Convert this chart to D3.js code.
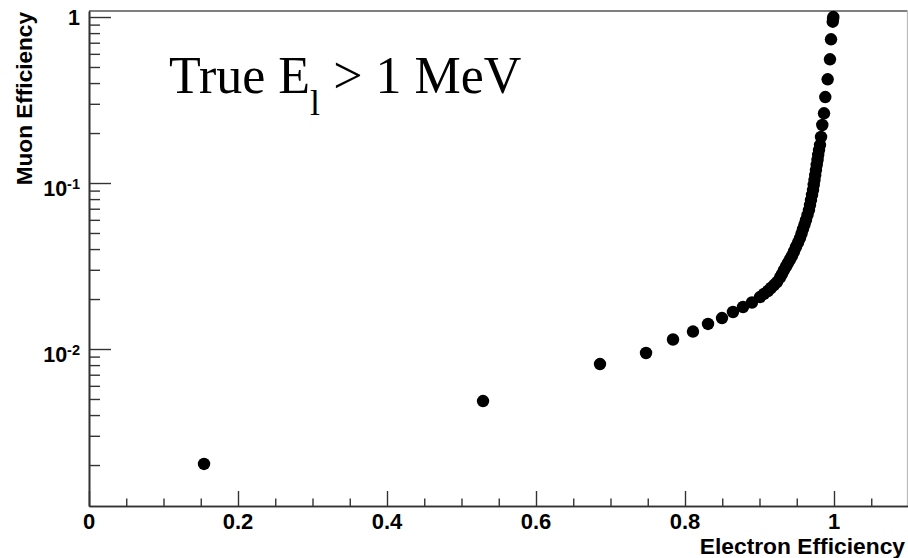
<!DOCTYPE html>
<html>
<head>
<meta charset="utf-8">
<script src="https://cdn.jsdelivr.net/npm/d3@7"></script>
<style>
  html, body { margin: 0; padding: 0; background: #fff; }
  svg { display: block; }
  .lbl { font-family: "Liberation Sans", Arial, sans-serif; font-weight: bold; fill: #000; }
</style>
</head>
<body>
<svg id="chart" width="908" height="558"></svg>
<script>
// Electron efficiency (x) vs muon efficiency (y) from a cut scan
const electronEff = [
  0.1544, 0.5289, 0.6859, 0.7477, 0.7839, 0.8107, 0.8309, 0.8497, 0.8644, 0.8779,
  0.8899, 0.9007, 0.9060, 0.9114, 0.9154, 0.9195, 0.9235, 0.9275, 0.9302, 0.9329,
  0.9356, 0.9383, 0.9409, 0.9436, 0.9463, 0.9490, 0.9517, 0.9544, 0.9564, 0.9584,
  0.9604, 0.9624, 0.9644, 0.9664, 0.9678, 0.9691, 0.9705, 0.9718, 0.9728, 0.9738,
  0.9748, 0.9758, 0.9768, 0.9779, 0.9788, 0.9799, 0.9812, 0.9826, 0.9843, 0.9866,
  0.9883, 0.9915, 0.9946, 0.9960, 0.9983, 0.9987, 0.9991
];
const muonEff = [
  0.00203, 0.00486, 0.00812, 0.00946, 0.01141, 0.01274, 0.01415, 0.01537, 0.01671, 0.01791,
  0.01906, 0.02057, 0.02145, 0.02236, 0.02331, 0.02429, 0.02532, 0.02695, 0.02829, 0.02991,
  0.03141, 0.03297, 0.03461, 0.03633, 0.03867, 0.04116, 0.04380, 0.04663, 0.04963, 0.05282,
  0.05623, 0.05984, 0.06415, 0.06876, 0.07370, 0.07898, 0.08467, 0.09074, 0.09727, 0.1042,
  0.1117, 0.1197, 0.1284, 0.1376, 0.1475, 0.1580, 0.1694, 0.1893, 0.2236, 0.2630,
  0.3296, 0.4214, 0.5561, 0.7340, 0.9369, 0.9726, 1.0
];

const xMajorTicks = [0, 0.2, 0.4, 0.6, 0.8, 1.0];
const xTickLabels = ["0", "0.2", "0.4", "0.6", "0.8", "1"];
const xMinorTicks = [0.05, 0.1, 0.15, 0.25, 0.3, 0.35, 0.45, 0.5, 0.55, 0.65, 0.7, 0.75,
                     0.85, 0.9, 0.95, 1.05];
const yMajorTicks = [1, 0.1, 0.01];
const yTickMantissa = ["1", "10", "10"];
const yTickExponent = ["", "-1", "-2"];
const yMinorTicks = [0.002, 0.003, 0.004, 0.005, 0.006, 0.007, 0.008, 0.009,
                     0.02, 0.03, 0.04, 0.05, 0.06, 0.07, 0.08, 0.09,
                     0.2, 0.3, 0.4, 0.5, 0.6, 0.7, 0.8, 0.9];

const xTitle = "Electron Efficiency";
const yTitle = "Muon Efficiency";

const svg = d3.select("#chart");
const frame = { left: 89, right: 907.5, top: 11, bottom: 506 };

const x = d3.scaleLinear().domain([0, 1.1]).range([frame.left, frame.left + 819.5]);
const y = d3.scaleLog().domain([0.001133, 1.087]).range([frame.bottom, frame.top]);

// frame: top and right edges drawn lighter
svg.append("line").attr("x1", frame.left).attr("x2", frame.right)
  .attr("y1", frame.top).attr("y2", frame.top)
  .attr("stroke", "#555").attr("stroke-width", 1.3);
svg.append("line").attr("x1", frame.right).attr("x2", frame.right)
  .attr("y1", frame.top).attr("y2", frame.bottom)
  .attr("stroke", "#bbb").attr("stroke-width", 1.3);

// bottom axis, ticks pointing into the frame
function styleAxis(g) {
  g.select(".domain").attr("stroke", "#333").attr("stroke-width", 1.6);
  g.selectAll(".tick line").attr("stroke", "#333").attr("stroke-width", 1.4);
  g.selectAll(".tick text").remove();
}
svg.append("g").attr("transform", `translate(0,${frame.bottom})`)
  .call(d3.axisTop(x).tickValues(xMinorTicks).tickSize(7.5).tickSizeOuter(0).tickFormat(""))
  .call(styleAxis);
svg.append("g").attr("transform", `translate(0,${frame.bottom})`)
  .call(d3.axisTop(x).tickValues(xMajorTicks).tickSize(15).tickSizeOuter(0).tickFormat(""))
  .call(styleAxis);

// left axis (log), ticks pointing into the frame
svg.append("g").attr("transform", `translate(${frame.left},0)`)
  .call(d3.axisRight(y).tickValues(yMinorTicks).tickSize(11).tickSizeOuter(0).tickFormat(""))
  .call(styleAxis);
svg.append("g").attr("transform", `translate(${frame.left},0)`)
  .call(d3.axisRight(y).tickValues(yMajorTicks).tickSize(22).tickSizeOuter(0).tickFormat(""))
  .call(styleAxis);

// x tick labels
svg.selectAll(".xlab").data(xMajorTicks).join("text")
  .attr("class", "lbl xlab")
  .attr("x", d => x(d)).attr("y", 528.5)
  .attr("text-anchor", "middle")
  .attr("font-size", 22)
  .text((d, i) => xTickLabels[i]);

// y tick labels with exponent
const ylab = svg.selectAll(".ylab").data(yMajorTicks).join("text")
  .attr("class", "lbl ylab")
  .attr("x", 80)
  .attr("y", (d, i) => y(d) + (yTickExponent[i] ? 12.5 : 8))
  .attr("text-anchor", "end")
  .attr("font-size", 21.5);
ylab.append("tspan").text((d, i) => yTickMantissa[i]);
ylab.filter((d, i) => yTickExponent[i] !== "")
  .append("tspan")
  .attr("font-size", 14.5).attr("dy", -7)
  .text(d => yTickExponent[yMajorTicks.indexOf(d)]);

// axis titles, aligned to the far ends
svg.append("text").attr("class", "lbl")
  .attr("x", 905).attr("y", 554)
  .attr("text-anchor", "end").attr("font-size", 22.8)
  .text(xTitle);
svg.append("text").attr("class", "lbl")
  .attr("transform", "translate(32,12) rotate(-90)")
  .attr("text-anchor", "end").attr("font-size", 22.6)
  .text(yTitle);

// markers
svg.append("g").selectAll("circle")
  .data(electronEff.map((e, i) => [e, muonEff[i]]))
  .join("circle")
  .attr("cx", d => x(d[0]))
  .attr("cy", d => y(d[1]))
  .attr("r", 6.2)
  .attr("fill", "#000");

// selection note
const note = svg.append("text")
  .attr("x", 169).attr("y", 93)
  .attr("font-family", "'Liberation Serif', 'Times New Roman', serif")
  .attr("font-size", 52)
  .attr("fill", "#000");
note.append("tspan").text("True E");
note.append("tspan").attr("font-size", 36).attr("dy", 22).text("l");
note.append("tspan").attr("dy", -22).text(" > 1 MeV");
</script>
</body>
</html>
